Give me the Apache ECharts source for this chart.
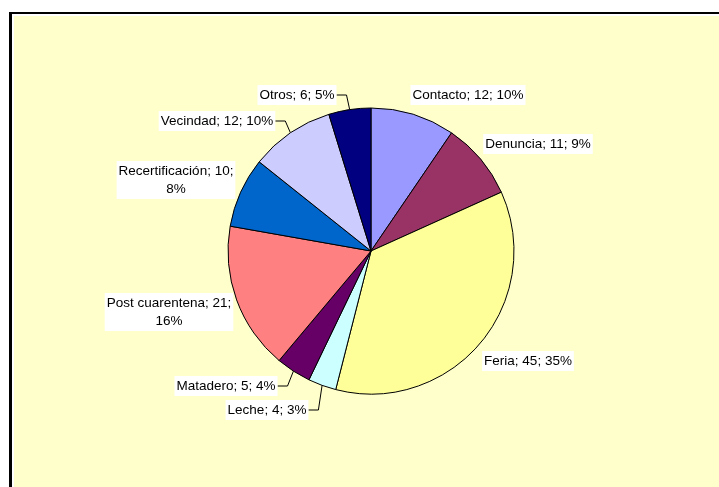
<!DOCTYPE html>
<html>
<head>
<meta charset="utf-8">
<script src="https://cdn.jsdelivr.net/npm/echarts@6/dist/echarts.min.js"></script>
<style>
  html, body { margin: 0; padding: 0; background: #fff; }
  #chart { width: 719px; height: 487px; }
</style>
</head>
<body>
<div id="chart"></div>
<script>
// datos del gráfico
var categorias = ['Contacto', 'Denuncia', 'Feria', 'Leche', 'Matadero', 'Post cuarentena', 'Recertificación', 'Vecindad', 'Otros'];
var valores = [12, 11, 45, 4, 5, 21, 10, 12, 6];
var porcentajes = [10, 9, 35, 3, 4, 16, 8, 10, 5];

// colores de Excel
var colores = ['#9999FF', '#993366', '#FFFF99', '#CCFFFF', '#660066', '#FF8080', '#0066CC', '#CCCCFF', '#000080'];

// posición de cada etiqueta (centro del texto), línea guía y corte de línea
var posEtiquetas = [
    { x: 468, y: 95 },
    { x: 538, y: 144 },
    { x: 528, y: 361 },
    { x: 267, y: 410, linea: true },
    { x: 226, y: 386, linea: true },
    { x: 169, y: 312, corte: true },
    { x: 176, y: 180, corte: true },
    { x: 217, y: 121, linea: true },
    { x: 297, y: 95, linea: true }
];

var chart = echarts.init(document.getElementById('chart'));

var datos = categorias.map(function (c, i) {
    return {
        name: c,
        value: valores[i],
        itemStyle: { color: colores[i] },
        labelLine: { show: !!posEtiquetas[i].linea }
    };
});

chart.setOption({
    animation: false,
    graphic: [
        { type: 'rect', shape: { x: 9, y: 12, width: 720, height: 480 }, style: { fill: '#000' }, z: -10 },
        { type: 'rect', shape: { x: 12, y: 14, width: 720, height: 480 }, style: { fill: '#fff' }, z: -9 },
        { type: 'rect', shape: { x: 14, y: 16, width: 720, height: 480 }, style: { fill: '#FFFFCC' }, z: -8 }
    ],
    series: [
        {
            type: 'pie',
            center: [371, 251],
            radius: 143,
            startAngle: 90,
            clockwise: true,
            data: datos,
            itemStyle: {
                borderColor: '#000',
                borderWidth: 1
            },
            emphasis: { disabled: true },
            label: {
                show: true,
                position: 'outside',
                fontFamily: 'Liberation Sans, Arial, sans-serif',
                fontSize: 13.5,
                color: '#000',
                backgroundColor: '#fff',
                padding: [1, 2],
                lineHeight: 18,
                align: 'center',
                formatter: function (p) {
                    var i = p.dataIndex;
                    var sep = posEtiquetas[i].corte ? '\n' : ' ';
                    return p.name + '; ' + p.value + ';' + sep + porcentajes[i] + '%';
                }
            },
            labelLine: {
                lineStyle: { color: '#000', width: 1 },
                length: 10,
                length2: 10
            },
            labelLayout: function (params) {
                var i = params.dataIndex;
                var pos = posEtiquetas[i];
                var out = { x: pos.x, y: pos.y, align: 'center', verticalAlign: 'middle' };
                if (pos.linea && params.labelLinePoints) {
                    var ancla = params.labelLinePoints[0];
                    var w = params.labelRect.width;
                    var borde = pos.x + w / 2;
                    out.labelLinePoints = [
                        [ancla[0], ancla[1]],
                        [borde + 10, pos.y],
                        [borde, pos.y]
                    ];
                }
                return out;
            }
        }
    ]
});
</script>
</body>
</html>
